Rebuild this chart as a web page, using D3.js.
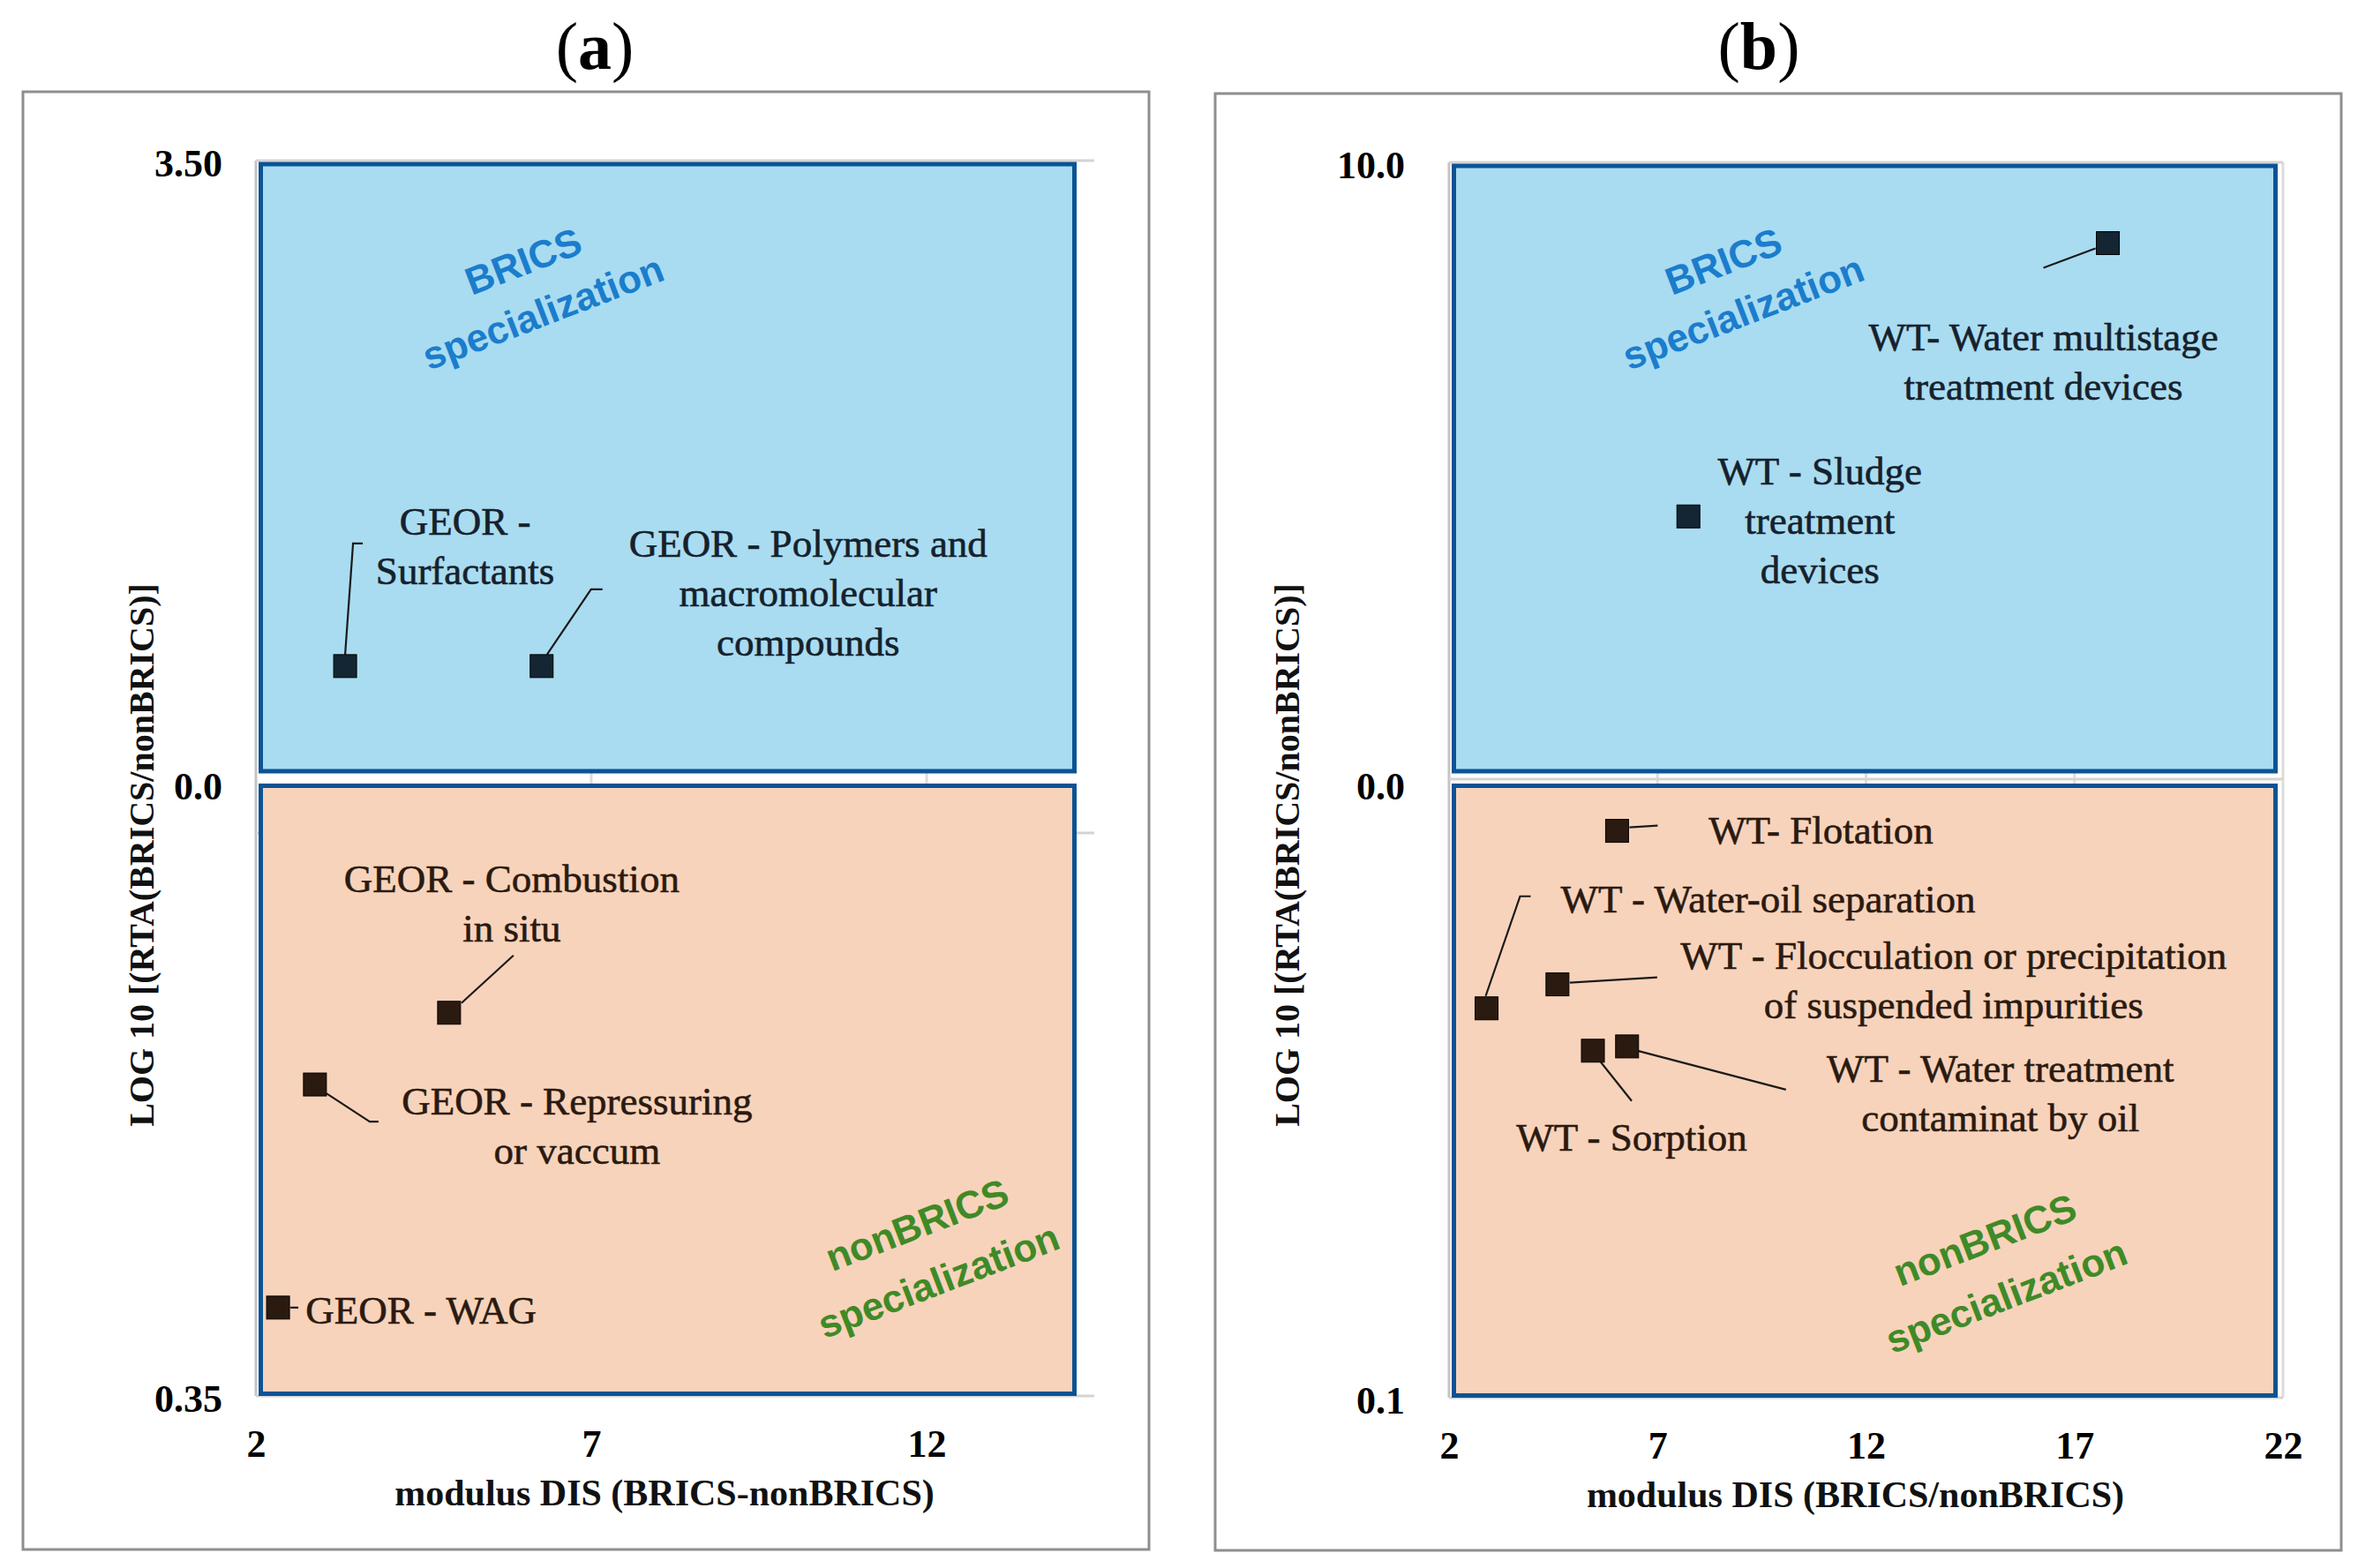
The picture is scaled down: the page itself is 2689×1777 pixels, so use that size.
<!DOCTYPE html>
<html lang="en">
<head>
<meta charset="UTF-8">
<title>BRICS / nonBRICS specialization</title>
<script src="https://cdn.jsdelivr.net/npm/d3@7/dist/d3.min.js"></script>
<style>
  body { margin: 0; background: #fff; }
  text { font-family: "Liberation Serif", serif; }
  .zone { font-family: "Liberation Sans", Arial, sans-serif; font-weight: bold; }
</style>
</head>
<body>
<script>
  // ---- panel (a): GEOR ----
  const aNames = [
    ["GEOR -", "Surfactants"],
    ["GEOR - Polymers and", "macromolecular", "compounds"],
    ["GEOR - Combustion", "in situ"],
    ["GEOR - Repressuring", "or vaccum"],
    ["GEOR - WAG"]
  ];
  const aDis = [3.33, 6.26, 4.88, 2.88, 2.33];
  const aLog = [0.66, 0.66, 0.131, 0.172, 0.2995];
  const aZone = ["up", "up", "down", "down", "down"];
  const aXTicks = [2, 7, 12];
  const aYTicks = ["3.50", "0.0", "0.35"];

  // ---- panel (b): WT ----
  const bNames = [
    ["WT- Water multistage", "treatment devices"],
    ["WT - Sludge", "treatment", "devices"],
    ["WT- Flotation"],
    ["WT - Water-oil separation"],
    ["WT - Flocculation or precipitation", "of suspended impurities"],
    ["WT - Sorption"],
    ["WT - Water treatment", "contaminat by oil"]
  ];
  const bDis = [17.8, 7.74, 6.03, 2.9, 4.6, 5.45, 6.27];
  const bLog = [8.70, 4.30, 0.0077, 0.0366, 0.0327, 0.0435, 0.0428];
  const bZone = ["up", "up", "down", "down", "down", "down", "down"];
  const bXTicks = [2, 7, 12, 17, 22];
  const bYTicks = ["10.0", "0.0", "0.1"];

  // label placement (offsets from the marker, px) and leader lines
  const aLabelOff = [[136, -165], [302, -140], [71, -153], [297, 18], [162, 2]];
  const aLeaders = [
    [[0, -13], [9, -139], [20, -139]],
    [[6, -13], [56, -87], [69, -87]],
    [[14, -11], [73, -65]],
    [[13, 10], [62, 42], [72, 42]],
    [[14, 0], [23, 0]]
  ];
  const bLabelOff = [[-73, 106], [149, -52], [231, -1], [319, -124], [449, -33], [44, 97], [423, 24]];
  const bLeaders = [
    [[-14, 6], [-73, 28]],
    null,
    [[14, -4], [46, -6]],
    [[-1, -14], [38, -127], [50, -127]],
    [[14, -2], [113, -8]],
    [[9, 13], [44, 57]],
    [[12, 5], [180, 49]]
  ];

  const W = 2689, H = 1777;
  const svg = d3.select("body").append("svg").attr("width", W).attr("height", H);

  const panels = [
    {
      tag: "a", names: aNames, dis: aDis, log: aLog, zone: aZone,
      xTicks: aXTicks, yTicks: aYTicks, labelOff: aLabelOff, leaders: aLeaders,
      xDomain: [2, 14.5], upDomain: [0, 3.5], downDomain: [0, 0.35],
      left: 290, right: 1240, top: 182, mid: 888, bottom: 1582,
      rectRight: 1220, baseY: 944,
      frame: [26, 104, 1302, 1756], titleX: 674,
      xTitle: "modulus DIS (BRICS-nonBRICS)", yLabelRight: 252, yTitleX: 160,
      bricsAt: [593, 296], nonAt: [1039, 1388]
    },
    {
      tag: "b", names: bNames, dis: bDis, log: bLog, zone: bZone,
      xTicks: bXTicks, yTicks: bYTicks, labelOff: bLabelOff, leaders: bLeaders,
      xDomain: [2, 22], upDomain: [0, 10], downDomain: [0, 0.1],
      left: 1642, right: 2587, top: 184, mid: 888, bottom: 1584,
      rectRight: 2581, baseY: 883,
      frame: [1377, 106, 2653, 1757], titleX: 1993,
      xTitle: "modulus DIS (BRICS/nonBRICS)", yLabelRight: 1592, yTitleX: 1458,
      bricsAt: [1953, 296], nonAt: [2249, 1405]
    }
  ];

  panels.forEach(drawPanel);

  function drawPanel(p) {
    const x = d3.scaleLinear().domain(p.xDomain).range([p.left, p.right]);
    const yUp = d3.scaleLinear().domain(p.upDomain).range([p.mid, p.top]);
    const yDown = d3.scaleLinear().domain(p.downDomain).range([p.mid, p.bottom]);
    const g = svg.append("g");

    // outer frame
    const [fx0, fy0, fx1, fy1] = p.frame;
    g.append("rect")
      .attr("x", fx0).attr("y", fy0)
      .attr("width", fx1 - fx0).attr("height", fy1 - fy0)
      .attr("fill", "none").attr("stroke", "#8e8e8e").attr("stroke-width", 3);

    // panel title (a) / (b)
    const t = g.append("text")
      .attr("x", p.titleX).attr("y", 78)
      .attr("text-anchor", "middle")
      .style("font-size", "76px").style("fill", "#000");
    t.append("tspan").text("(");
    t.append("tspan").style("font-weight", "bold").text(p.tag);
    t.append("tspan").text(")");

    // gridlines
    g.selectAll(".vgrid").data(p.xTicks).enter().append("line")
      .attr("x1", d => x(d)).attr("x2", d => x(d))
      .attr("y1", p.top).attr("y2", p.bottom)
      .attr("stroke", (d, i) => i === 0 ? "#c4c4c4" : "#dcdcdc")
      .attr("stroke-width", 3);
    [p.top, p.baseY, p.bottom].forEach(yy => {
      g.append("line")
        .attr("x1", p.left).attr("x2", p.right)
        .attr("y1", yy).attr("y2", yy)
        .attr("stroke", "#d4d4d4").attr("stroke-width", 3);
    });

    // specialization zones
    const rx0 = x(p.xDomain[0]) + 5.5, rx1 = p.rectRight - 2.5;
    g.append("rect")
      .attr("x", rx0).attr("y", p.top + 4)
      .attr("width", rx1 - rx0).attr("height", p.mid - 14 - p.top - 4)
      .attr("fill", "#a9dcf1").attr("stroke", "#0b5394").attr("stroke-width", 5);
    g.append("rect")
      .attr("x", rx0).attr("y", p.mid + 2.5)
      .attr("width", rx1 - rx0).attr("height", p.bottom - 2.5 - p.mid - 2.5)
      .attr("fill", "#f8d3bb").attr("stroke", "#0b5394").attr("stroke-width", 5);

    // zone captions
    const zoneText = (at, lines, color, gap) => {
      const zg = g.append("g").attr("transform", `translate(${at[0]},${at[1]}) rotate(-21)`);
      lines.forEach((s, i) => {
        zg.append("text").attr("class", "zone")
          .attr("x", 0).attr("y", i * gap).attr("dy", "0.35em")
          .attr("text-anchor", "middle")
          .style("font-size", "44px").style("fill", color)
          .text(s);
      });
    };
    zoneText(p.bricsAt, ["BRICS", "specialization"], "#1b7dcc", 62);
    zoneText(p.nonAt, ["nonBRICS", "specialization"], "#3f8a27", 68);

    // x axis labels
    const xAxis = g.append("g")
      .attr("transform", `translate(0,${p.bottom + 38})`)
      .call(d3.axisBottom(x).tickValues(p.xTicks).tickSize(0).tickPadding(0).tickFormat(d3.format("d")));
    xAxis.select(".domain").remove();
    xAxis.selectAll("text")
      .attr("dy", "0.71em")
      .style("font-family", "Liberation Serif, serif")
      .style("font-size", "44px").style("font-weight", "bold").style("fill", "#000");

    // y labels (upper and lower scales share the 0.0 line)
    const yPos = [yUp(p.upDomain[1]), yUp(0), yDown(p.downDomain[1])];
    g.selectAll(".ytick").data(p.yTicks).enter().append("text")
      .attr("x", p.yLabelRight).attr("y", (d, i) => yPos[i]).attr("dy", "0.4em")
      .attr("text-anchor", "end")
      .style("font-size", "44px").style("font-weight", "bold").style("fill", "#000")
      .text(d => d);

    // axis titles
    g.append("text")
      .attr("x", (p.left + p.right) / 2 - 12).attr("y", p.bottom + 124)
      .attr("text-anchor", "middle")
      .style("font-size", "42px").style("font-weight", "bold").style("fill", "#111")
      .text(p.xTitle);
    g.append("text")
      .attr("transform", `translate(${p.yTitleX},${969}) rotate(-90)`)
      .attr("text-anchor", "middle").attr("dy", "0.35em")
      .style("font-size", "40px").style("font-weight", "bold").style("fill", "#111")
      .text("LOG 10 [(RTA(BRICS/nonBRICS)]");

    // points
    const pts = p.dis.map((d, i) => ({
      name: p.names[i],
      cx: x(d),
      cy: p.zone[i] === "up" ? yUp(p.log[i]) : yDown(p.log[i]),
      zone: p.zone[i],
      off: p.labelOff[i],
      leader: p.leaders[i]
    }));

    const line = d3.line();
    pts.forEach(d => {
      if (d.leader) {
        g.append("path")
          .attr("d", line(d.leader.map(q => [d.cx + q[0], d.cy + q[1]])))
          .attr("fill", "none").attr("stroke", "#1a1a1a").attr("stroke-width", 2.2);
      }
    });

    g.selectAll(".pt").data(pts).enter().append("rect")
      .attr("x", d => d.cx - 13).attr("y", d => d.cy - 13)
      .attr("width", 26).attr("height", 26)
      .attr("fill", d => d.zone === "up" ? "#142533" : "#2b1a10")
      .attr("stroke", "#000").attr("stroke-width", 1);

    pts.forEach(d => {
      const col = d.zone === "up" ? "#15212c" : "#2a1a10";
      const lab = g.append("text")
        .attr("text-anchor", "middle")
        .style("font-size", "45px")
        .style("fill", col).style("stroke", col).style("stroke-width", 0.6);
      d.name.forEach((s, k) => {
        lab.append("tspan")
          .attr("x", d.cx + d.off[0])
          .attr("y", d.cy + d.off[1] + k * 56)
          .attr("dy", "0.35em")
          .text(s);
      });
    });
  }
</script>
</body>
</html>
